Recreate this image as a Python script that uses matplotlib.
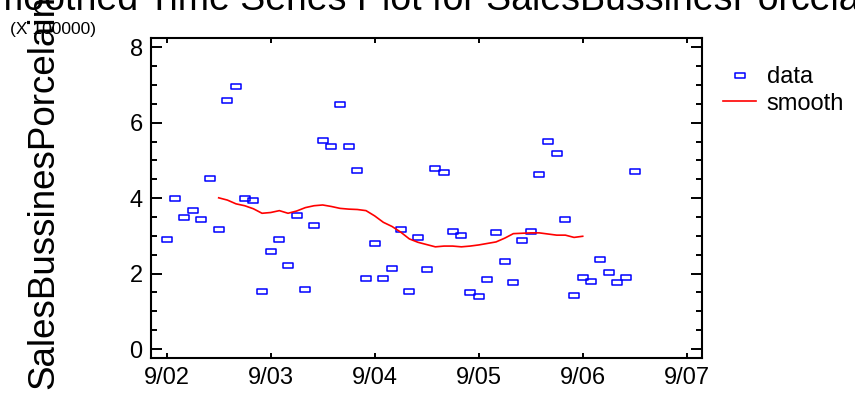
import matplotlib
matplotlib.use("Agg")
import matplotlib.pyplot as plt
from matplotlib.path import Path
from matplotlib.ticker import MultipleLocator

plt.rcParams["font.family"] = ["Liberation Sans", "DejaVu Sans"]

# monthly sales (X 100000), first month is 9/02
sales = [2.91, 4.01, 3.49, 3.70, 3.45, 4.54, 3.19, 6.61, 6.97, 4.01,
         3.95, 1.54, 2.61, 2.91, 2.22, 3.55, 1.58, 3.30, 5.54, 5.39,
         6.49, 5.39, 4.76, 1.89, 2.81, 1.89, 2.14, 3.19, 1.54, 2.96,
         2.12, 4.80, 4.70, 3.14, 3.02, 1.51, 1.41, 1.87, 3.11, 2.33,
         1.77, 2.88, 3.14, 4.65, 5.52, 5.21, 3.45, 1.43, 1.92, 1.81,
         2.40, 2.04, 1.77, 1.92, 4.73]
months = list(range(len(sales)))

# smoothed curve, months 6..48
smooth_start = 6
smooth = [4.01, 3.95, 3.85, 3.80, 3.72, 3.60, 3.62, 3.67, 3.60, 3.66,
          3.75, 3.80, 3.82, 3.78, 3.73, 3.71, 3.70, 3.67, 3.53, 3.36,
          3.25, 3.10, 2.92, 2.83, 2.77, 2.71, 2.73, 2.73, 2.71, 2.73,
          2.76, 2.80, 2.84, 2.94, 3.06, 3.07, 3.08, 3.08, 3.05, 3.02,
          3.02, 2.96, 2.99]
smooth_months = list(range(smooth_start, smooth_start + len(smooth)))

year_labels = ["9/02", "9/03", "9/04", "9/05", "9/06", "9/07"]
y_ticks = [0, 2, 4, 6, 8]

W, H = 855, 393
fig = plt.figure(figsize=(W / 100, H / 100), dpi=100)
ax = fig.add_axes([151 / W, 1 - 357.7 / H, (702.3 - 151) / W, (357.7 - 38.3) / H])

# hollow flat rectangle marker
rect = Path([(-1, -0.5), (1, -0.5), (1, 0.5), (-1, 0.5), (-1, -0.5)],
            [Path.MOVETO, Path.LINETO, Path.LINETO, Path.LINETO, Path.CLOSEPOLY])

ax.plot(months, sales, linestyle="none", marker=rect, markersize=7.2,
        markerfacecolor="none", markeredgecolor="#0000ff", markeredgewidth=1.1,
        label="data")
ax.plot(smooth_months, smooth, color="#ff0000", linewidth=1.2, label="smooth")

ax.set_xlim(-1.81, 61.8)
ax.set_ylim(-0.23, 8.24)
ax.set_xticks([12 * i for i in range(len(year_labels))])
ax.set_xticklabels(year_labels)
ax.set_yticks(y_ticks)
ax.yaxis.set_minor_locator(MultipleLocator(0.5))

ax.tick_params(axis="both", which="both", direction="in", labelsize=17,
               width=1.4, color="black")
ax.tick_params(axis="x", which="major", length=3.8, top=True, pad=7)
ax.tick_params(axis="y", which="major", length=8, left=True, right=True, pad=6)
ax.tick_params(axis="y", which="minor", length=4.3, left=True, right=True)
ax.tick_params(axis="x", which="minor", bottom=False, top=False)
for s in ax.spines.values():
    s.set_linewidth(1.5)

ax.legend(loc="upper left", bbox_to_anchor=(723 / W, 1 - 66 / H),
          bbox_transform=fig.transFigure, frameon=False, fontsize=17,
          handlelength=1.4, handletextpad=0.45, labelspacing=0.2,
          borderpad=0, borderaxespad=0)

fig.text(0.5, 1 - 10 / H, "Smoothed Time Series Plot for SalesBussinesPorcelain",
         ha="center", va="baseline", fontsize=27)
fig.text(10 / W, 1 - 34 / H, "(X 100000)", ha="left", va="baseline", fontsize=12.5)
fig.text(44 / W, 1 - 192 / H, "SalesBussinesPorcelain", rotation=90,
         ha="center", va="center", fontsize=26.5)

fig.savefig("out.png", dpi=100)
